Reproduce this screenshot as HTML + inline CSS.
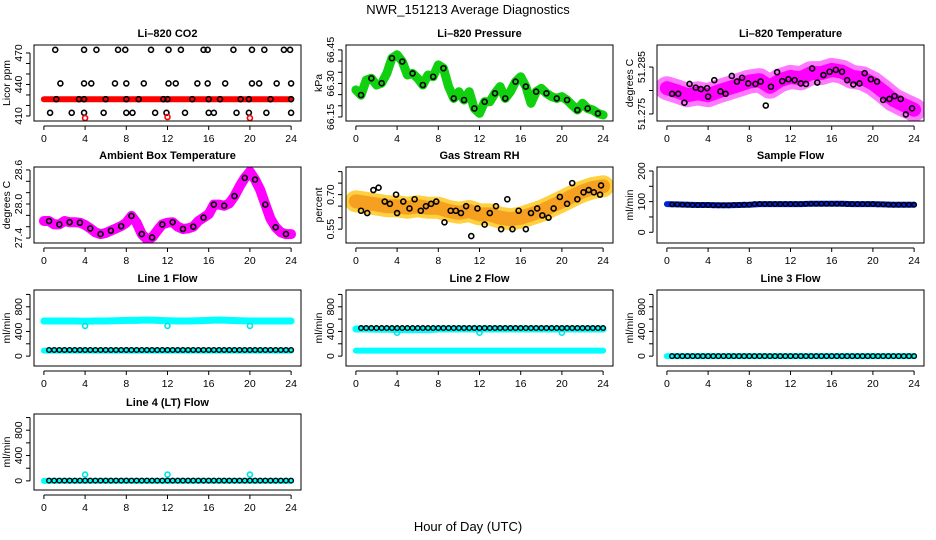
<!DOCTYPE html>
<html><head><meta charset="utf-8"><style>
html,body{margin:0;padding:0;background:#fff;}
svg{display:block;font-family:"Liberation Sans",sans-serif;}
</style></head><body>
<svg id="c" width="936" height="540" viewBox="0 0 936 540" xmlns="http://www.w3.org/2000/svg">
<rect width="936" height="540" fill="#fff"/>
<text x="468" y="14" text-anchor="middle" font-size="13">NWR_151213  Average Diagnostics</text>
<text x="468" y="531" text-anchor="middle" font-size="13">Hour of Day (UTC)</text>
</svg>
<script>
// ---- data ----
const halfHours = [0,0.5,1,1.5,2,2.5,3,3.5,4,4.5,5,5.5,6,6.5,7,7.5,8,8.5,9,9.5,10,10.5,11,11.5,12,12.5,13,13.5,14,14.5,15,15.5,16,16.5,17,17.5,18,18.5,19,19.5,20,20.5,21,21.5,22,22.5,23,23.5,24];
const hours = [0,1,2,3,4,5,6,7,8,9,10,11,12,13,14,15,16,17,18,19,20,21,22,23,24];
const co2Band = [426,426,426,426,426,426,426,426,426,426,426,426,426,426,426,426,426,426,426,426,426,426,426,426,426];
const co2BlackX = [1.1,3.9,5.1,7.2,7.9,10.4,12.1,13.3,15.5,15.9,18.4,20.2,21.4,23.3,23.9, 1.6,3.9,4.6,6.9,8.0,9.7,12.1,12.8,14.9,15.9,17.6,20.2,20.9,22.6,24, 1.2,3.4,3.9,6.0,8.0,9.2,11.6,12.0,14.4,16.0,17.1,19.1,19.9,22.0,24, 0.6,2.7,3.9,5.8,8.0,8.6,10.8,11.9,13.7,16.0,16.5,18.7,19.9,21.6,24];
const co2BlackY = [473,473,473,473,473,473,473,473,473,473,473,473,473,473,473, 441,441,441,441,441,441,441,441,441,441,441,441,441,441,441, 426,426,426,426,426,426,426,426,426,426,426,426,426,426,426, 413,413,413,413,413,413,413,413,413,413,413,413,413,413,413];
const co2RedX = [4,12,20];
const co2RedY = [408,409,408];
const pressure = [66.271,66.248,66.315,66.323,66.293,66.301,66.345,66.413,66.428,66.398,66.338,66.345,66.323,66.293,66.338,66.330,66.383,66.368,66.286,66.233,66.263,66.226,66.263,66.188,66.166,66.218,66.218,66.256,66.286,66.233,66.263,66.308,66.330,66.286,66.211,66.263,66.278,66.256,66.241,66.233,66.241,66.226,66.203,66.181,66.211,66.188,66.181,66.166,66.159];
const tempBand = [51.2805,51.2798,51.2790,51.2794,51.2790,51.2798,51.2805,51.2812,51.2819,51.2822,51.2808,51.2822,51.2829,51.2826,51.2837,51.2837,51.2844,51.2840,51.2829,51.2826,51.2815,51.2798,51.2780,51.2769,51.2759];
const tempBlackX = [0.5,1.1,1.7,2.2,2.8,3.3,3.9,4.0,4.6,5.2,5.7,6.3,6.8,7.3,7.9,8.6,9.1,9.6,10.1,10.7,11.2,11.8,12.4,13.0,13.5,14.1,14.6,15.2,15.8,16.4,17.0,17.5,18.1,18.7,19.2,19.8,20.4,21.0,21.6,22.1,22.7,23.2,23.8];
const tempBlackY = [51.2793,51.2793,51.2774,51.2814,51.2806,51.2803,51.2805,51.2787,51.2822,51.2798,51.2793,51.2831,51.2819,51.2827,51.2815,51.2814,51.2819,51.2768,51.2808,51.2839,51.2820,51.2824,51.2822,51.2815,51.2814,51.2847,51.2817,51.2833,51.2840,51.2844,51.2840,51.2822,51.2813,51.2815,51.2837,51.2824,51.2819,51.2780,51.2782,51.2788,51.2782,51.2749,51.2762];
const ambient = [27.70,27.70,27.64,27.64,27.70,27.68,27.68,27.67,27.63,27.57,27.50,27.47,27.49,27.53,27.57,27.61,27.67,27.79,27.67,27.47,27.38,27.41,27.53,27.64,27.67,27.68,27.60,27.56,27.57,27.60,27.70,27.76,27.82,27.99,27.99,27.97,28.01,28.14,28.31,28.46,28.57,28.43,28.25,27.99,27.74,27.59,27.50,27.47,27.47];
const rhBand = [0.671,0.664,0.657,0.650,0.650,0.643,0.650,0.643,0.643,0.629,0.621,0.629,0.614,0.614,0.600,0.593,0.600,0.614,0.629,0.650,0.671,0.693,0.714,0.729,0.736];
const rhBlackX = [0.5,1.1,1.7,2.2,2.8,3.3,3.9,4.0,4.6,5.2,5.7,6.3,6.8,7.3,7.8,8.6,9.2,9.7,10.2,10.7,11.2,11.8,12.5,13.0,13.6,14.1,14.7,15.2,15.8,16.5,17.0,17.6,18.1,18.7,19.2,19.8,20.5,21.0,21.5,22.1,22.6,23.1,23.7,23.8];
const rhBlackY = [0.63,0.62,0.72,0.73,0.67,0.66,0.70,0.62,0.67,0.64,0.68,0.63,0.65,0.66,0.67,0.58,0.63,0.63,0.62,0.65,0.52,0.64,0.57,0.62,0.65,0.55,0.68,0.55,0.63,0.55,0.62,0.64,0.61,0.60,0.64,0.69,0.66,0.75,0.68,0.71,0.72,0.71,0.70,0.74];
const sampleFlow = [92,91,90,89,89,88,88,89,90,92,92,92,92,92,93,93,93,93,92,92,92,91,90,90,90];
const line1High = [570,570,570,570,565,570,570,575,580,580,585,580,575,570,570,575,580,585,580,575,570,570,570,570,570];
const line1Low = [90,90,90,90,90,90,90,90,90,90,90,90,90,90,90,90,90,90,90,90,90,90,90,90,90];
const line1Black = [100,100,100,100,100,100,100,100,100,100,100,100,100,100,100,100,100,100,100,100,100,100,100,100,100];
const line1Out = [490,490,490];
const line2High = [440,440,435,435,430,430,430,430,440,440,440,440,440,440,440,440,440,440,440,440,440,440,440,440,440];
const line2Low = [90,90,90,90,90,90,90,90,90,90,90,90,90,90,90,90,90,90,90,90,90,90,90,90,90];
const line2Black = [455,455,455,455,455,455,455,455,455,455,455,455,455,455,455,455,455,455,455,455,455,455,455,455,455];
const line2Out = [380,380,380];
const line3Cyan = [0,0,0,0,0,0,0,0,0,0,0,0,0,0,0,0,0,0,0,0,0,0,0,0,0];
const line3Black = [0,0,0,0,0,0,0,0,0,0,0,0,0,0,0,0,0,0,0,0,0,0,0,0,0];
const line4Cyan = [0,0,0,0,0,0,0,0,0,0,0,0,0,0,0,0,0,0,0,0,0,0,0,0,0];
const line4Black = [5,5,5,5,5,5,5,5,5,5,5,5,5,5,5,5,5,5,5,5,5,5,5,5,5];
const line4Out = [100,100,100];
const outlierHours = [4,12,20];
const xTicks = [0,4,8,12,16,20,24];

// ---- drawing ----
const svg = document.getElementById('c');
const NS = 'http://www.w3.org/2000/svg';
const colLeft = [34,346,657], rowTop = [45,167,290,414], W = 267, H = 76;
function mk(tag, attrs, parent){
  const e = document.createElementNS(NS, tag);
  for (const k in attrs) e.setAttribute(k, attrs[k]);
  (parent||svg).appendChild(e);
  return e;
}
function panel(name, col, row, ymin, ymax, ticks, labels, digits, title, ytitle){
  const L = colLeft[col], T = rowTop[row];
  const g = mk('g', {});
  
  
  const sx = h => L + 9.9 + h * 10.3;
  const sy = v => T + (ymax - v) / (ymax - ymin) * H;
  const t = mk('text', {x:L + W/2, y:T - 8, 'text-anchor':'middle', 'font-size':11, 'font-weight':'bold'}, g);
  t.textContent = title;
  
  
  const xa = mk('g', {}, g);
  
  
  const yb = T + H + 5;
  mk('line', {x1:sx(0), x2:sx(24), y1:yb, y2:yb, stroke:'#000'}, xa);
  xTicks.forEach(h => {
    mk('line', {x1:sx(h), x2:sx(h), y1:yb, y2:yb + 4, stroke:'#000'}, xa);
    const tl = mk('text', {x:sx(h), y:yb + 16, 'text-anchor':'middle', 'font-size':10.5}, xa);
    tl.textContent = h;
    
    
  });
  const ya = mk('g', {}, g);
  
  
  const xl = L - 4;
  mk('line', {x1:xl, x2:xl, y1:sy(ticks[0]), y2:sy(ticks[ticks.length-1]), stroke:'#000'}, ya);
  ticks.forEach(v => mk('line', {x1:xl - 4, x2:xl, y1:sy(v), y2:sy(v), stroke:'#000'}, ya));
  labels.forEach(v => {
    const yl = mk('text', {x:0, y:0, 'text-anchor':'middle', 'font-size':10.5, transform:'translate(' + (L - 12) + ',' + sy(v) + ') rotate(-90)'}, ya);
    yl.textContent = v.toFixed(digits);
    
    
  });
  const yt = mk('text', {x:0, y:0, 'text-anchor':'middle', 'font-size':10.5, transform:'translate(' + (L - 24) + ',' + (T + H/2) + ') rotate(-90)'}, ya);
  yt.textContent = ytitle;
  
  
  const clipId = 'clip-' + name;
  const cp = mk('clipPath', {id: clipId}, g);
  mk('rect', {x:L, y:T, width:W, height:H}, cp);
  const plot = mk('g', {'clip-path':'url(#' + clipId + ')'}, g);
  
  
  const box = mk('rect', {x:L, y:T, width:W, height:H, fill:'none', stroke:'#000', 'stroke-width':1}, g);
  
  
  return {sx, sy, g: plot};
}
function band(p, xs, ys, color, width, name, opacity){
  const pts = xs.map((x,i) => p.sx(x).toFixed(1) + ',' + p.sy(ys[i]).toFixed(1)).join(' ');
  const a = {points:pts, fill:'none', stroke:color, 'stroke-width':width, 'stroke-linecap':'round', 'stroke-linejoin':'round'};
  if (opacity) a['stroke-opacity'] = opacity;
  const e = mk('polyline', a, p.g);
  
  
}
function dots(p, xs, ys, color, name, r, sw){
  xs.forEach((x,i) => {
    const c = mk('circle', {cx:p.sx(x), cy:p.sy(ys[i]), r:r||2.5, fill:'none', stroke:color, 'stroke-width':sw||1.6}, p.g);
    
    
  });
}
const blackHours = [];
for (let h = 0.5; h <= 24.01; h += 0.5) blackHours.push(h);
function expand(arr){ return blackHours.map(h => arr[Math.min(24, Math.round(h))]); }

// CO2
let p = panel('co2', 0, 0, 405.2, 477.6, [410,420,430,440,450,460,470], [410,440,470], 0, 'Li\u2013820 CO2', 'Licor ppm');
band(p, hours, co2Band, '#f00', 6, 'co2-band');
dots(p, co2BlackX, co2BlackY, '#000', 'co2-point');
dots(p, co2RedX, co2RedY, '#f00', 'co2-red-point');
// Pressure
p = panel('pressure', 1, 0, 66.132, 66.472, [66.15,66.20,66.25,66.30,66.35,66.40,66.45], [66.15,66.30,66.45], 2, 'Li\u2013820 Pressure', 'kPa');
band(p, halfHours, pressure, '#10d010', 9, 'pressure-band');
dots(p, halfHours.filter((h,i)=>i%2==1), pressure.filter((v,i)=>i%2==1), '#000', 'pressure-point');
// Temperature
p = panel('temperature', 2, 0, 51.2735, 51.2897, [51.275,51.280,51.285], [51.275,51.285], 3, 'Li\u2013820 Temperature', 'degrees C');
band(p, hours, tempBand, '#ff40ff', 24, 'temperature-band-outer', 0.7);
band(p, hours, tempBand, '#ff00ff', 14, 'temperature-band');
dots(p, tempBlackX, tempBlackY, '#000', 'temperature-point');
// Ambient
p = panel('ambient', 0, 1, 27.313, 28.652, [27.4,27.6,27.8,28.0,28.2,28.4,28.6], [27.4,28.0,28.6], 1, 'Ambient Box Temperature', 'degrees C');
band(p, halfHours, ambient, '#ff00ff', 10, 'ambient-band');
dots(p, halfHours.filter((h,i)=>i%2==1), ambient.filter((v,i)=>i%2==1), '#000', 'ambient-point');
// RH
p = panel('rh', 1, 1, 0.49, 0.82, [0.55,0.60,0.65,0.70,0.75,0.80], [0.55,0.70], 2, 'Gas Stream RH', 'percent');
band(p, hours, rhBand, '#ffd040', 22, 'rh-band-outer');
band(p, hours, rhBand, '#f5a020', 14, 'rh-band');
dots(p, rhBlackX, rhBlackY, '#000', 'rh-point');
// Sample flow
p = panel('sample-flow', 2, 1, -35, 213, [0,50,100,150,200], [0,100,200], 0, 'Sample Flow', 'ml/min');
band(p, hours, sampleFlow, '#0022dd', 6, 'sample-flow-band');
dots(p, blackHours, expand(sampleFlow), '#000', 'sample-flow-point', 2.2, 1.4);
// Line 1
p = panel('line1', 0, 2, -160, 1072, [0,200,400,600,800,1000], [0,400,800], 0, 'Line 1 Flow', 'ml/min');
band(p, hours, line1High, '#00ffff', 7, 'line1-high-band');
band(p, hours, line1Low, '#00ffff', 6, 'line1-low-band');
dots(p, outlierHours, line1Out, '#00e5e5', 'line1-outlier');
dots(p, blackHours, expand(line1Black), '#000', 'line1-point', 2.3, 1.4);
// Line 2
p = panel('line2', 1, 2, -160, 1072, [0,200,400,600,800,1000], [0,400,800], 0, 'Line 2 Flow', 'ml/min');
band(p, hours, line2High, '#00ffff', 7, 'line2-high-band');
band(p, hours, line2Low, '#00ffff', 6, 'line2-low-band');
dots(p, outlierHours, line2Out, '#00e5e5', 'line2-outlier');
dots(p, blackHours, expand(line2Black), '#000', 'line2-point', 2.3, 1.4);
// Line 3
p = panel('line3', 2, 2, -160, 1072, [0,200,400,600,800,1000], [0,400,800], 0, 'Line 3 Flow', 'ml/min');
band(p, hours, line3Cyan, '#00ffff', 6, 'line3-band');
dots(p, blackHours, expand(line3Black), '#000', 'line3-point', 2.3, 1.4);
// Line 4
p = panel('line4', 0, 3, -144, 1056, [0,200,400,600,800,1000], [0,400,800], 0, 'Line 4 (LT) Flow', 'ml/min');
band(p, hours, line4Cyan, '#00ffff', 6, 'line4-band');
dots(p, outlierHours, line4Out, '#00e5e5', 'line4-outlier');
dots(p, blackHours, expand(line4Black), '#000', 'line4-point', 2.3, 1.4);
</script>
</body></html>
